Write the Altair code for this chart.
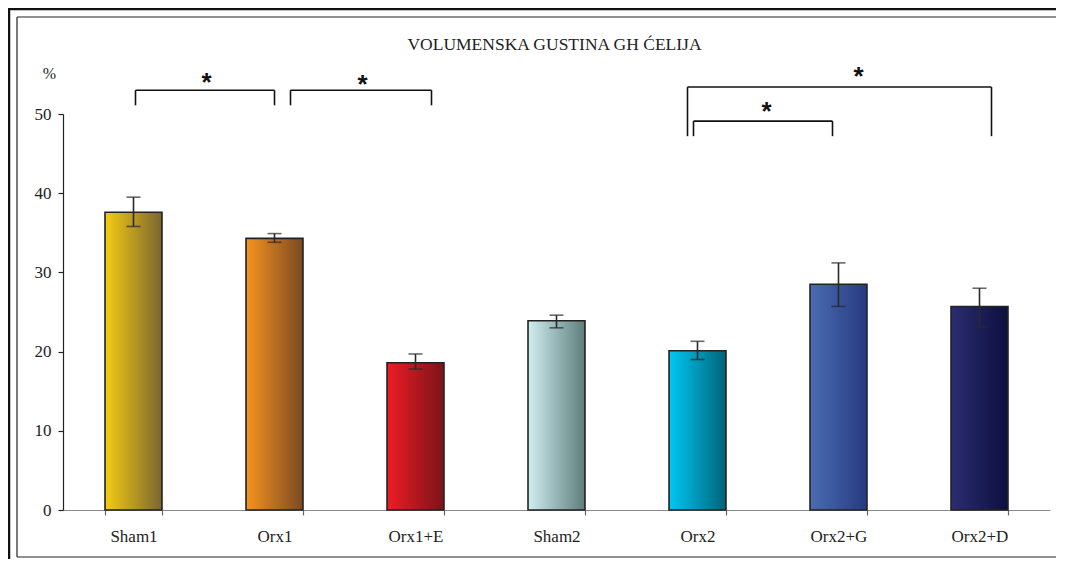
import altair as alt
import pandas as pd

# ---- data ----
categories = ["Sham1", "Orx1", "Orx1+E", "Sham2", "Orx2", "Orx2+G", "Orx2+D"]
means = [37.6, 34.3, 18.6, 23.9, 20.1, 28.5, 25.7]
err_low = [35.8, 33.8, 17.8, 23.0, 19.0, 25.7, 23.1]
err_high = [39.5, 34.9, 19.7, 24.6, 21.3, 31.2, 28.0]

# significance brackets
br_left = ["Sham1", "Orx1", "Orx2", "Orx2"]
br_right = ["Orx1", "Orx1+E", "Orx2+G", "Orx2+D"]
br_top = [53.0, 53.0, 49.1, 53.4]
br_bottom = [51.1, 51.1, 47.2, 47.2]
star_anchor = ["Sham1", "Orx1", "Orx2", "Orx2+G"]
star_y = [54.8, 54.6, 51.1, 55.6]
star_label = ["*", "*", "*", "*"]

title_text = "VOLUMENSKA GUSTINA GH ĆELIJA"
y_ticks = [0, 10, 20, 30, 40, 50]

# ---- styles ----
gradients = [
    ("#F5CC12", "#7A6530"),
    ("#F7931E", "#7A4A22"),
    ("#EE1C25", "#7A1419"),
    ("#D0EEF0", "#5E7D7C"),
    ("#00C8F5", "#006478"),
    ("#4B6CB2", "#263A80"),
    ("#2B2D72", "#0D0F3E"),
]
br_left_off = [2, 16, -4, -10]
br_right_off = [0, 16, -6, 12]
star_off = [73, 88, 69, 20]

FONT = "Liberation Serif"
W, H = 987, 396
PR = 6  # right padding

df = pd.DataFrame({"cat": categories, "mean": means, "lo": err_low, "hi": err_high})

xscale = alt.Scale(domain=categories, paddingInner=0.596, paddingOuter=0.298)
yscale = alt.Scale(domain=[0, 50])

X = alt.X("cat:N", scale=xscale, sort=categories,
          axis=alt.Axis(title=None, labelAngle=0, tickBand="extent", tickSize=5,
                        labelPadding=13, labelFontSize=17, labelFont=FONT,
                        labelColor="#222", domainColor="#8a8a8a", tickColor="#666",
                        domainWidth=1.2, tickWidth=1.2))
Y = alt.Y("mean:Q", scale=yscale,
          axis=alt.Axis(values=y_ticks, grid=False, tickSize=5, labelPadding=7,
                        labelFontSize=17, labelFont=FONT, labelColor="#222",
                        domainColor="#222", tickColor="#222", domainWidth=1.2, tickWidth=1.2,
                        title="%", titleAngle=0, titleX=-14, titleY=-41,
                        titleAlign="center", titleBaseline="middle",
                        titleFontSize=16, titleFont=FONT, titleFontWeight="normal",
                        titleColor="#222"))

base = alt.Chart(df)
layers = []
for cat, (c0, c1) in zip(categories, gradients):
    grad = alt.Gradient(gradient="linear", x1=0, x2=1, y1=0, y2=0,
                        stops=[alt.GradientStop(color=c0, offset=0),
                               alt.GradientStop(color=c1, offset=1)])
    layers.append(
        base.transform_filter(alt.datum.cat == cat)
        .mark_bar(fill=grad, stroke="#222", strokeWidth=1.6)
        .encode(x=X, y=Y)
    )

# error bars
layers.append(base.mark_rule(color="#2a2a2a", strokeWidth=1.6).encode(
    x=alt.X("cat:N", scale=xscale), y=alt.Y("lo:Q", scale=yscale), y2="hi:Q"))
for f in ["lo", "hi"]:
    layers.append(base.mark_tick(color="#2a2a2a", thickness=1.6, size=14).encode(
        x=alt.X("cat:N", scale=xscale), y=alt.Y(f + ":Q", scale=yscale)))

# brackets
for i in range(len(br_left)):
    bdf = pd.DataFrame({"l": [br_left[i]], "r": [br_right[i]],
                        "top": [br_top[i]], "bot": [br_bottom[i]]})
    bc = alt.Chart(bdf)
    layers.append(bc.mark_rule(color="#111", strokeWidth=1.6,
                               xOffset=br_left_off[i], x2Offset=br_right_off[i]).encode(
        x=alt.X("l:N", scale=xscale), x2="r:N", y=alt.Y("top:Q", scale=yscale)))
    layers.append(bc.mark_rule(color="#111", strokeWidth=1.6, xOffset=br_left_off[i]).encode(
        x=alt.X("l:N", scale=xscale), y=alt.Y("top:Q", scale=yscale), y2="bot:Q"))
    layers.append(bc.mark_rule(color="#111", strokeWidth=1.6, xOffset=br_right_off[i]).encode(
        x=alt.X("r:N", scale=xscale), y=alt.Y("top:Q", scale=yscale), y2="bot:Q"))
    sdf = pd.DataFrame({"c": [star_anchor[i]], "y": [star_y[i]], "t": [star_label[i]]})
    layers.append(alt.Chart(sdf).mark_text(font="Liberation Sans", fontSize=26, fontWeight="bold",
                                           color="#111", baseline="middle", dy=7,
                                           xOffset=star_off[i]).encode(
        x=alt.X("c:N", scale=xscale), y=alt.Y("y:Q", scale=yscale), text="t:N"))

# title
layers.append(alt.Chart(pd.DataFrame({"t": [title_text]})).mark_text(
    font=FONT, fontSize=17.5, color="#222", baseline="middle", align="center").encode(
    x=alt.value(W / 2 - 2), y=alt.value(-69), text="t:N"))

# frame
FB = 443
XR = W + PR
fr = alt.Chart(pd.DataFrame({"a": [0]}))
layers.append(fr.mark_rule(color="#111", strokeWidth=2.5).encode(
    x=alt.value(-55), x2=alt.value(XR), y=alt.value(-105)))
layers.append(fr.mark_rule(color="#111", strokeWidth=2.5).encode(
    x=alt.value(-54), y=alt.value(-106), y2=alt.value(FB + 2)))
layers.append(fr.mark_rule(color="#222", strokeWidth=1.2).encode(
    x=alt.value(-46), x2=alt.value(XR), y=alt.value(-97)))
layers.append(fr.mark_rule(color="#222", strokeWidth=1.2).encode(
    x=alt.value(-46), y=alt.value(-97), y2=alt.value(FB)))
layers.append(fr.mark_rule(color="#222", strokeWidth=1.2).encode(
    x=alt.value(-46), x2=alt.value(XR), y=alt.value(FB)))

chart = alt.layer(*layers).properties(
    width=W, height=H, autosize="none",
    padding={"left": 55, "top": 106, "right": PR, "bottom": 49},
    background="white",
).configure_view(strokeWidth=0)

chart.save("out.html", embed_options={"renderer": "svg", "actions": False})
